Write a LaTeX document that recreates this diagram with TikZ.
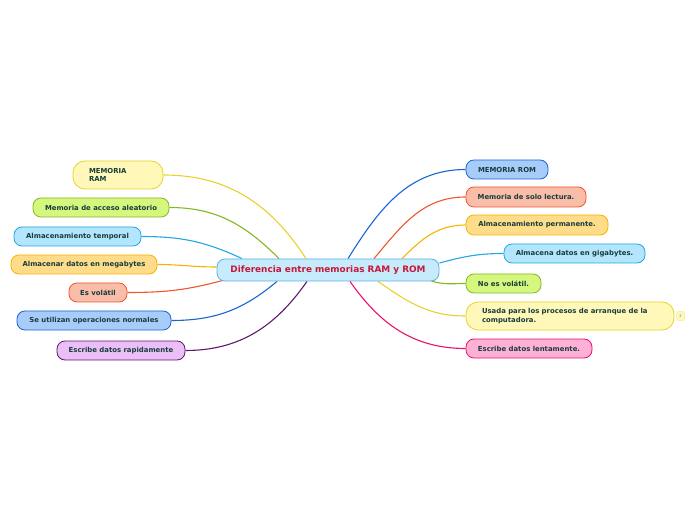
\documentclass[tikz,border=0pt]{standalone}
\usepackage{fontspec}
\setmainfont{DejaVu Sans}
\usetikzlibrary{backgrounds}
\definecolor{inktxt}{HTML}{173D3C}
\definecolor{titl}{HTML}{C8163C}
\definecolor{ctrF}{HTML}{C6EBFB}
\definecolor{ctrB}{HTML}{5BAFE6}
\definecolor{ylwF}{HTML}{FFF8B8}
\definecolor{ylwB}{HTML}{E8D22A}
\definecolor{grnF}{HTML}{D5F77E}
\definecolor{grnB}{HTML}{82BA1E}
\definecolor{skyF}{HTML}{B3E6FC}
\definecolor{skyB}{HTML}{22A6E4}
\definecolor{orgF}{HTML}{FFDC8A}
\definecolor{orgB}{HTML}{F7B300}
\definecolor{slmF}{HTML}{F9BDA9}
\definecolor{slmB}{HTML}{F0552B}
\definecolor{bluF}{HTML}{A8CCFA}
\definecolor{bluB}{HTML}{1766D2}
\definecolor{prpF}{HTML}{EBBEF8}
\definecolor{prpB}{HTML}{5E1A6C}
\definecolor{pnkF}{HTML}{FFB0D5}
\definecolor{pnkB}{HTML}{EB0F6E}

\begin{document}
\begin{tikzpicture}[x=1pt,y=1pt,
  topic/.style={draw,rounded corners=8pt,line width=0.8pt,text=inktxt,
    font=\fontsize{6.9}{8.4}\selectfont\bfseries,minimum height=19pt,inner xsep=0pt,inner ysep=0pt},
  wide/.style={align=left,inner xsep=16pt,minimum height=28pt,rounded corners=12pt},
  link/.style={line width=1.1pt},
  ylw/.style={fill=ylwF,draw=ylwB},grn/.style={fill=grnF,draw=grnB},
  sky/.style={fill=skyF,draw=skyB},org/.style={fill=orgF,draw=orgB},
  slm/.style={fill=slmF,draw=slmB},blu/.style={fill=bluF,draw=bluB},
  prp/.style={fill=prpF,draw=prpB},pnk/.style={fill=pnkF,draw=pnkB}]
\useasboundingbox (0,0) rectangle (696,520);
\node[topic,fill=ctrF,draw=ctrB,minimum width=222pt,minimum height=22pt,text=titl,
  font=\fontsize{8.9}{10}\selectfont\bfseries] (ctr) at (328,250) {Diferencia entre memorias RAM y ROM};

\node[topic,wide,ylw,text width=58pt] (ram) at (118,345) {MEMORIA\\RAM};
\node[topic,grn,minimum width=136pt] (acc) at (101,312.5) {Memoria de acceso aleatorio};
\node[topic,sky,minimum width=127pt] (tmp) at (77.5,283.5) {Almacenamiento temporal};
\node[topic,org,minimum width=146pt] (meg) at (84,255.5) {Almacenar datos en megabytes};
\node[topic,slm,minimum width=58pt] (vol) at (98,227.5) {Es volátil};
\node[topic,blu,minimum width=154pt] (ops) at (94,199.5) {Se utilizan operaciones normales};
\node[topic,prp,minimum width=128pt] (rap) at (121,169.5) {Escribe datos rapidamente};

\node[topic,blu,minimum width=82pt] (rom) at (507,350.5) {MEMORIA ROM};
\node[topic,slm,minimum width=120pt,minimum height=20pt] (lec) at (526,323) {Memoria de solo lectura.};
\node[topic,org,minimum width=142pt,minimum height=20pt] (per) at (537,295) {Almacenamiento permanente.};
\node[topic,sky,minimum width=141pt] (gig) at (574.5,266.5) {Almacena datos en gigabytes.};
\node[topic,grn,minimum width=75pt] (nov) at (503.5,236.5) {No es volátil.};
\node[topic,wide,ylw,text width=176pt] (arr) at (570,204) {Usada para los procesos de arranque de la\\computadora.};
\node[topic,pnk,minimum width=126pt] (len) at (529,171.5) {Escribe datos lentamente.};
\node[draw=ylwB!45,fill=ylwF,rounded corners=1.5pt,line width=0.5pt,text=inktxt!60,
  font=\fontsize{4}{4}\selectfont,minimum width=8pt,minimum height=9pt,inner sep=0pt] (cnt) at (680.5,204) {1};

\begin{scope}[on background layer]
\foreach \an/\dx/\dy/\t/\o/\i/\c in {
  north/-22/0/ram.east/123/0/ylwB, north/-49/0/acc.east/135/0/grnB,
  north/-86/0/tmp.east/155/0/skyB, west/0/3/meg.east/180/0/orgB,
  south/-105/1/vol.east/195/0/slmB, south/-51/0/ops.east/220/0/bluB,
  south/-21/0/rap.east/235/0/prpB,
  north/20/0/rom.west/58/180/bluB, north/46/0/lec.west/50/180/slmB,
  north/74/0/per.west/45/180/orgB, east/0/7/gig.west/15/180/skyB,
  south/102/1/nov.west/-20/180/grnB, south/50/0/arr.west/-35/180/ylwB,
  south/22/0/len.west/-55/180/pnkB}
  \draw[link,draw=\c] ([shift={(\dx,\dy)}]ctr.\an) to[out=\o,in=\i] (\t);
\end{scope}
\end{tikzpicture}
\end{document}
